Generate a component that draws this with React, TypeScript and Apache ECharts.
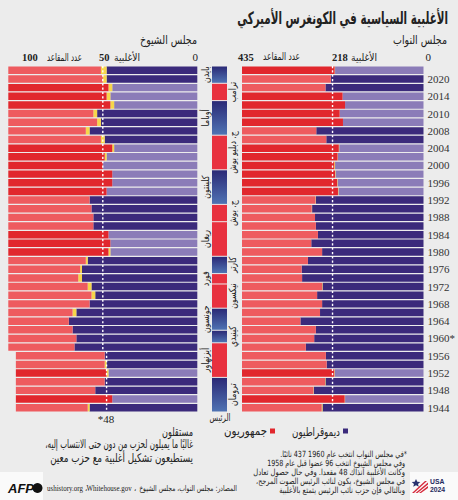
import React, { useEffect, useRef } from "react";
import * as echarts from "echarts";

// ---------- DATA ----------
const rowYears = [
  2022, 2020, 2018, 2016, 2014, 2012, 2010, 2008, 2006, 2004, 2002, 2000, 1998, 1996, 1994, 1992, 1990, 1988, 1986, 1984,
  1982, 1980, 1978, 1976, 1974, 1972, 1970, 1968, 1966, 1964, 1962, 1960, 1958, 1956, 1954, 1952, 1950, 1948, 1946, 1944,
];

const yearLabels = [
  "", "2020", "", "2014", "", "2010", "", "2008", "", "2004", "", "2000", "", "1996", "", "1992", "", "1988", "", "1984",
  "", "1980", "", "1976", "", "1972", "", "1968", "", "1964", "", "1960*", "", "1956", "", "1952", "", "1948", "", "1944",
];

const houseDem = [212, 222, 235, 194, 188, 201, 193, 257, 233, 202, 205, 212, 211, 206, 204, 258, 267, 260, 258, 253,
  269, 243, 277, 292, 291, 242, 255, 243, 248, 295, 258, 262, 282, 234, 232, 213, 235, 263, 188, 242];
const houseInd = [1, 0, 0, 0, 0, 0, 0, 0, 0, 1, 1, 2, 1, 1, 1, 1, 1, 0, 0, 0,
  0, 0, 0, 0, 0, 1, 0, 0, 0, 0, 0, 0, 0, 0, 0, 1, 1, 1, 1, 2];
const houseRep = [222, 213, 200, 241, 247, 234, 242, 178, 202, 232, 229, 221, 223, 228, 230, 176, 167, 175, 177, 182,
  166, 192, 158, 143, 144, 192, 180, 192, 187, 140, 177, 175, 153, 201, 203, 221, 199, 171, 246, 191];

const senateDem = [48, 48, 45, 46, 44, 53, 51, 57, 49, 44, 48, 50, 45, 45, 48, 57, 56, 55, 55, 47,
  46, 46, 58, 61, 61, 56, 54, 57, 64, 68, 66, 64, 65, 49, 48, 47, 49, 54, 45, 57];
const senateInd = [3, 2, 2, 2, 2, 2, 2, 2, 2, 1, 1, 0, 0, 0, 0, 0, 0, 0, 0, 0,
  0, 1, 1, 1, 2, 2, 2, 0, 2, 0, 0, 0, 0, 0, 1, 1, 0, 0, 0, 1];
const senateRep = [49, 50, 53, 52, 54, 45, 47, 41, 49, 55, 51, 50, 55, 55, 52, 43, 44, 45, 45, 53,
  54, 53, 41, 38, 37, 42, 44, 43, 34, 32, 34, 36, 35, 47, 47, 48, 47, 42, 51, 38];
const senateControl = [
  "D", "D", "R", "R", "R", "D", "D", "D", "D", "R", "R", "R", "R", "R", "R", "D", "D", "D", "D", "R",
  "R", "R", "D", "D", "D", "D", "D", "D", "D", "D", "D", "D", "D", "D", "D", "R", "D", "D", "R", "D",
];

const houseSeats = 435;
const houseMajority = 218;
const senateSeats = 100;

const presidentNames = ["بايدن", "ترامب", "أوباما", "ج. دبليو بوش", "كلينتون", "ج. بوش", "ريغان",
  "كارتر", "فورد", "نيكسون", "جونسون", "كينيدي", "أيزنهاور", "ترومان"];
const presidentParty = ["D", "R", "D", "R", "D", "R", "R", "D", "R", "R", "D", "D", "R", "D"];
const termStart = [2021, 2017, 2009, 2001, 1993, 1989, 1981, 1977, 1974.6, 1969, 1963.9, 1961, 1953, 1945];
const termEnd = [2025, 2021, 2017, 2009, 2001, 1993, 1989, 1981, 1977, 1974.6, 1969, 1963.9, 1961, 1953];

const footnoteLines = [
  "\u200F*في مجلس النواب انتخب عام 1960 437 نائبًا.\u200F",
  "وفي مجلس الشيوخ انتخب 96 عضوا قبل عام 1958",
  "وكانت الأغلبية آنذاك 48 مقعدا. وفي حال حصول تعادل",
  "في مجلس الشيوخ، يكون لنائب الرئيس الصوت المرجح،\u200F",
  "وبالتالي فإن حزب نائب الرئيس يتمتع بالأغلبية",
];
const independentLines = [
  "غالبًا ما يميلون لحزب من دون حتى الانتساب إليه،\u200F",
  "يستطيعون تشكيل أغلبية مع حزب معين",
];

// ---------- STYLE / LAYOUT ----------
const C = {
  repMaj: "#e1272d",
  repMin: "#ee5b5f",
  demMaj: "#3b2a7b",
  demMin: "#8b7cb8",
  ind: "#f6d64a",
  bg: "#ececec",
  text: "#222",
  stripeRed: "#e8313f",
};
const AR = "'DejaVu Sans', sans-serif";
const SERIF = "'Liberation Serif', serif";
const SANS = "'Liberation Sans', sans-serif";

const GRID_TOP = 66;
const GRID_H = 346;

const footnoteWidths = [127, 138, 152, 149, 126];
const independentWidths = [148, 143];

let measureCtx: CanvasRenderingContext2D | null = null;
function measure(text: string, font: string): number {
  if (!measureCtx) measureCtx = document.createElement("canvas").getContext("2d");
  if (!measureCtx) return text.length * 6;
  measureCtx.font = font;
  return measureCtx.measureText(text).width || 1;
}

function txt(text: string, x: number, y: number, size: number, align: string, opts: any = {}) {
  const family = opts.family || AR;
  const font = `${opts.weight || "normal"} ${size}px ${family}`;
  let scaleX = 1;
  if (opts.width) scaleX = Math.min(1.2, opts.width / measure(text, font));
  return {
    type: "text",
    x,
    y,
    scaleX,
    silent: true,
    style: {
      text,
      fill: opts.color || C.text,
      font,
      align,
      verticalAlign: "middle",
    },
  };
}

function buildOption() {
  const houseCtl = (i: number) => (houseRep[i] > houseDem[i] ? "R" : "D");
  const senCtl = (i: number) => senateControl[i];
  const colorItems = (vals: number[], party: string, ctl: (i: number) => string) =>
    vals.map((v, i) => {
      let color = C.ind;
      if (party === "D") color = ctl(i) === "D" ? C.demMaj : C.demMin;
      if (party === "R") color = ctl(i) === "R" ? C.repMaj : C.repMin;
      return { value: v, itemStyle: { color } };
    });

  const barBase = { type: "bar", barCategoryGap: "14%", silent: true };

  const dashRender = (params: any, api: any) => {
    const p = api.coord([api.value(0), api.value(1)]);
    const h = api.size([0, 1])[1];
    return {
      type: "line",
      shape: { x1: p[0], y1: p[1] - h / 2, x2: p[0], y2: p[1] + h / 2 },
      style: { stroke: "#ffffff", lineWidth: 1.4, lineDash: [2.16, 2.16] },
    };
  };

  const senateTotals = senateDem.map((d, i) => d + senateInd[i] + senateRep[i]);

  const presRender = (params: any, api: any) => {
    const i = params.dataIndex;
    const top = api.coord([0, termEnd[i]]);
    const bot = api.coord([1, termStart[i]]);
    const x0 = top[0];
    const x1 = bot[0];
    const y0 = top[1] + 0.5;
    const y1 = bot[1] - 0.5;
    const fill =
      presidentParty[i] === "D"
        ? new echarts.graphic.LinearGradient(0, 0, 0, 1, [
            { offset: 0, color: "#2b2976" },
            { offset: 1, color: "#4f73b3" },
          ])
        : C.stripeRed;
    const left = i % 2 === 0;
    return {
      type: "group",
      children: [
        { type: "rect", shape: { x: x0, y: y0, width: x1 - x0, height: y1 - y0 }, style: { fill } },
        {
          type: "text",
          x: left ? x0 - 6 : x1 + 6,
          y: (y0 + y1) / 2,
          rotation: Math.PI / 2,
          scaleX: 0.78,
          style: {
            text: presidentNames[i],
            fill: C.text,
            font: `10px ${AR}`,
            align: "center",
            verticalAlign: "middle",
          },
        },
      ],
    };
  };

  const graphic: any[] = [
    { type: "rect", shape: { x: 0, y: 472, width: 43, height: 28 }, style: { fill: "#fafafa" }, silent: true },
    { type: "rect", shape: { x: 410, y: 472, width: 48, height: 28 }, style: { fill: "#fafafa" }, silent: true },
    txt("الأغلبية السياسية في الكونغرس الأميركي", 448, 18, 17, "right", { weight: "bold", width: 211 }),
    txt("مجلس النواب", 447, 40, 12, "right", { width: 54 }),
    txt("مجلس الشيوخ", 197, 40, 12, "right", { width: 57 }),
    // house header
    txt("0", 431, 57, 11, "right", { family: SERIF }),
    txt("218", 332, 57, 10.5, "left", { weight: "bold", family: SERIF }),
    txt("الأغلبية", 377, 57, 10.5, "right", { width: 26 }),
    txt("435", 238, 57, 10.5, "left", { weight: "bold", family: SERIF }),
    txt("عدد المقاعد", 300, 57, 10.5, "right", { width: 37 }),
    // senate header
    txt("0", 198, 57, 11, "right", { family: SERIF }),
    txt("50", 99, 57, 10.5, "left", { weight: "bold", family: SERIF }),
    txt("الأغلبية", 140, 57, 10.5, "right", { width: 26 }),
    txt("100", 22, 57, 10.5, "left", { weight: "bold", family: SERIF }),
    txt("عدد المقاعد", 82, 57, 10.5, "right", { width: 35 }),
    txt("*48", 106, 419, 11, "center", { family: SERIF }),
    txt("الرئيس", 220, 418, 10, "center", { width: 21 }),
    // legend
    { type: "rect", shape: { x: 343, y: 428.5, width: 5, height: 5 }, style: { fill: C.demMaj }, silent: true },
    txt("ديموقراطيون", 340, 431, 12, "right", { width: 48 }),
    { type: "rect", shape: { x: 270, y: 428.5, width: 5, height: 5 }, style: { fill: C.repMaj }, silent: true },
    txt("جمهوريون", 267, 431, 12, "right", { width: 43 }),
    txt("مستقلون", 193, 431, 12, "right", { width: 31 }),
    ...independentLines.map((l, i) => txt(l, 193, 444 + i * 13, 12, "right", { width: independentWidths[i] })),
    ...footnoteLines.map((l, i) => txt(l, i === 0 ? 407 : 405, 454.5 + i * 9, 8.5, "right", { width: footnoteWidths[i] })),
    // footer
    txt("AFP", 8, 488, 13, "left", { weight: "italic bold", family: SANS, color: "#111" }),
    { type: "circle", shape: { cx: 37.5, cy: 488, r: 5 }, style: { fill: "#111" }, silent: true },
    txt("ushistory.org ،Whitehouse.gov ،", 47, 488, 8, "left", { family: SERIF, width: 90 }),
    txt("المصادر: مجلس النواب، مجلس الشيوخ", 237, 488, 8, "right", { width: 98 }),
    // USA 2024 logo
    {
      type: "polygon",
      shape: { points: [[416, 479], [417.3, 481.8], [420.3, 482], [418, 483.9], [418.8, 486.8], [416, 485.2], [413.2, 486.8], [414, 483.9], [411.7, 482], [414.7, 481.8]] },
      style: { fill: "#2a3470" },
      silent: true,
    },
    { type: "polygon", shape: { points: [[412, 493], [414, 493], [427, 481], [425, 481]] }, style: { fill: "#d6283a" }, silent: true },
    { type: "polygon", shape: { points: [[415.5, 493], [417.5, 493], [428, 484.5], [428, 482.5]] }, style: { fill: "#d6283a" }, silent: true },
    { type: "polygon", shape: { points: [[419, 493], [421, 493], [428, 488], [428, 486]] }, style: { fill: "#d6283a" }, silent: true },
    txt("USA", 430, 481.8, 6.8, "left", { weight: "bold", family: SANS, color: "#1f2a5e" }),
    txt("2024", 430, 489.4, 6.8, "left", { weight: "bold", family: SANS, color: "#1f2a5e" }),
  ];

  return {
    animation: false,
    backgroundColor: C.bg,
    grid: [
      { left: 8.3, top: GRID_TOP, width: 189, height: GRID_H },
      { left: 242, top: GRID_TOP, width: 189.3, height: GRID_H },
      { left: 212, top: GRID_TOP, width: 15, height: GRID_H },
    ],
    xAxis: [
      { gridIndex: 0, type: "value", min: 0, max: senateSeats, inverse: true, show: false },
      { gridIndex: 1, type: "value", min: 0, max: houseSeats, inverse: true, show: false },
      { gridIndex: 2, type: "value", min: 0, max: 1, show: false },
    ],
    yAxis: [
      { gridIndex: 0, type: "category", data: rowYears.map(String), inverse: true, show: false },
      {
        gridIndex: 1,
        type: "category",
        data: rowYears.map(String),
        inverse: true,
        position: "right",
        axisLine: { show: false },
        axisTick: { show: false },
        axisLabel: {
          interval: 0,
          margin: 4,
          color: "#333",
          fontFamily: "Liberation Serif",
          fontSize: 11,
          formatter: (v: string, i: number) => yearLabels[i],
        },
      },
      { gridIndex: 2, type: "value", min: 1945, max: 2025, show: false },
    ],
    series: [
      { ...barBase, name: "sD", xAxisIndex: 0, yAxisIndex: 0, stack: "s", data: colorItems(senateDem, "D", senCtl) },
      { ...barBase, name: "sI", xAxisIndex: 0, yAxisIndex: 0, stack: "s", data: colorItems(senateInd, "I", senCtl) },
      { ...barBase, name: "sR", xAxisIndex: 0, yAxisIndex: 0, stack: "s", data: colorItems(senateRep, "R", senCtl) },
      { ...barBase, name: "hD", xAxisIndex: 1, yAxisIndex: 1, stack: "h", data: colorItems(houseDem, "D", houseCtl) },
      { ...barBase, name: "hI", xAxisIndex: 1, yAxisIndex: 1, stack: "h", data: colorItems(houseInd, "I", houseCtl) },
      { ...barBase, name: "hR", xAxisIndex: 1, yAxisIndex: 1, stack: "h", data: colorItems(houseRep, "R", houseCtl) },
      {
        type: "custom",
        xAxisIndex: 0,
        yAxisIndex: 0,
        z: 5,
        silent: true,
        renderItem: dashRender,
        data: senateTotals.map((t, i) => [t / 2, i]),
      },
      {
        type: "custom",
        xAxisIndex: 1,
        yAxisIndex: 1,
        z: 5,
        silent: true,
        renderItem: dashRender,
        data: rowYears.map((_, i) => [houseMajority, i]),
      },
      {
        type: "custom",
        xAxisIndex: 2,
        yAxisIndex: 2,
        silent: true,
        clip: false,
        renderItem: presRender,
        data: presidentNames.map((_, i) => [termStart[i], termEnd[i], i]),
      },
    ],
    graphic,
  };
}

export default function App() {
  const ref = useRef<HTMLDivElement>(null);
  useEffect(() => {
    if (!ref.current) return;
    const chart = echarts.init(ref.current, undefined, { renderer: "svg" });
    chart.setOption(buildOption() as any);
    return () => chart.dispose();
  }, []);
  return (
    <div
      ref={ref}
      style={{ position: "fixed", left: 0, top: 0, width: 458, height: 500, background: C.bg }}
    />
  );
}
